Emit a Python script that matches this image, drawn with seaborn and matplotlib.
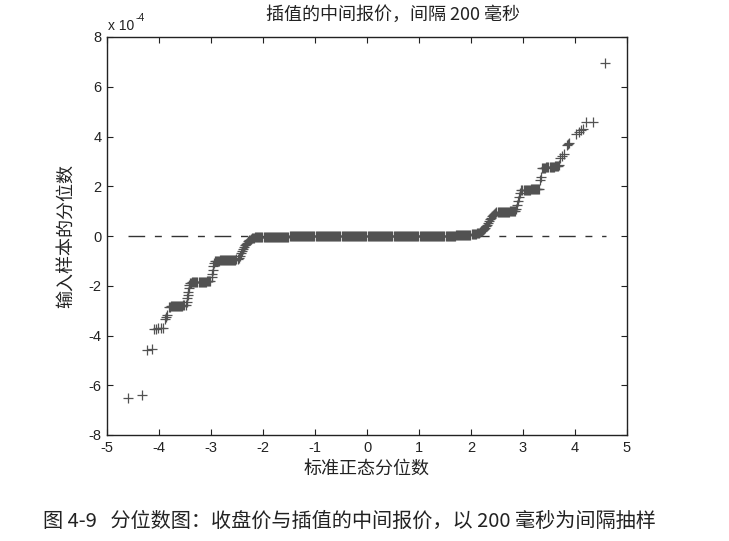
import numpy as np
import pandas as pd
import matplotlib
matplotlib.use("Agg")
import matplotlib.pyplot as plt
import seaborn as sns

# ---------------- data (x: standard normal quantiles, y: sample quantiles in units of 1e-4) ----------------
lower_tail_x = [-4.60, -4.33, -4.23, -4.14, -4.10, -4.05, -4.01, -3.97, -3.93, -3.88, -3.86, -3.84]
lower_tail_y = [-6.50, -6.40, -4.60, -4.56, -3.74, -3.72, -3.71, -3.70, -3.68, -3.32, -3.24, -3.16]

lower_steps_x = [-3.81, -3.79, -3.77, -3.75, -3.73, -3.71, -3.69, -3.67, -3.65, -3.63, -3.61, -3.59,
                 -3.57, -3.55, -3.53, -3.51, -3.49,
                 -3.47, -3.46, -3.45, -3.44, -3.43, -3.42,
                 -3.40, -3.38, -3.36, -3.34, -3.32, -3.30, -3.28, -3.26, -3.24, -3.22, -3.20, -3.18,
                 -3.16, -3.14, -3.12, -3.10, -3.08, -3.06, -3.04, -3.02,
                 -2.99, -2.98, -2.97, -2.96, -2.95,
                 -2.93, -2.91, -2.89, -2.87, -2.85, -2.83, -2.81, -2.79, -2.77, -2.75, -2.73, -2.71,
                 -2.69, -2.67, -2.65, -2.63, -2.61, -2.59, -2.57, -2.55, -2.53, -2.51, -2.49,
                 -2.47, -2.45, -2.43, -2.41, -2.39, -2.37, -2.35, -2.33, -2.31, -2.29, -2.27, -2.25,
                 -2.23, -2.21, -2.19, -2.17, -2.15, -2.13, -2.11]
lower_steps_y = [-2.84, -2.84, -2.83, -2.83, -2.83, -2.82, -2.82, -2.82, -2.81, -2.81, -2.81, -2.80,
                 -2.80, -2.80, -2.79, -2.78, -2.76,
                 -2.64, -2.50, -2.37, -2.24, -2.10, -1.96,
                 -1.87, -1.87, -1.86, -1.86, -1.86, -1.85, -1.85, -1.85, -1.85, -1.84, -1.84, -1.84,
                 -1.84, -1.83, -1.83, -1.83, -1.82, -1.82, -1.81, -1.79,
                 -1.66, -1.51, -1.36, -1.21, -1.08,
                 -1.00, -1.00, -0.99, -0.99, -0.99, -0.98, -0.98, -0.98, -0.98, -0.97, -0.97, -0.97,
                 -0.97, -0.97, -0.96, -0.96, -0.96, -0.96, -0.95, -0.95, -0.95, -0.94, -0.92,
                 -0.88, -0.79, -0.70, -0.61, -0.53, -0.45, -0.38, -0.32, -0.27, -0.22, -0.18, -0.15,
                 -0.12, -0.10, -0.08, -0.07, -0.06, -0.05, -0.05]

center_x = [-2.09, -2.07, -2.05, -2.03, -2.01, -1.99, -1.97, -1.95, -1.93, -1.91,
            -1.89, -1.87, -1.85, -1.83, -1.81, -1.79, -1.77, -1.75, -1.73, -1.71,
            -1.69, -1.67, -1.65, -1.63, -1.61, -1.59, -1.57, -1.55, -1.53, -1.51,
            -1.49, -1.47, -1.45, -1.43, -1.41, -1.39, -1.37, -1.35, -1.33, -1.31,
            -1.29, -1.27, -1.25, -1.23, -1.21, -1.19, -1.17, -1.15, -1.13, -1.11,
            -1.09, -1.07, -1.05, -1.03, -1.01, -0.99, -0.97, -0.95, -0.93, -0.91,
            -0.89, -0.87, -0.85, -0.83, -0.81, -0.79, -0.77, -0.75, -0.73, -0.71,
            -0.69, -0.67, -0.65, -0.63, -0.61, -0.59, -0.57, -0.55, -0.53, -0.51,
            -0.49, -0.47, -0.45, -0.43, -0.41, -0.39, -0.37, -0.35, -0.33, -0.31,
            -0.29, -0.27, -0.25, -0.23, -0.21, -0.19, -0.17, -0.15, -0.13, -0.11,
            -0.09, -0.07, -0.05, -0.03, -0.01, 0.01, 0.03, 0.05, 0.07, 0.09,
            0.11, 0.13, 0.15, 0.17, 0.19, 0.21, 0.23, 0.25, 0.27, 0.29,
            0.31, 0.33, 0.35, 0.37, 0.39, 0.41, 0.43, 0.45, 0.47, 0.49,
            0.51, 0.53, 0.55, 0.57, 0.59, 0.61, 0.63, 0.65, 0.67, 0.69,
            0.71, 0.73, 0.75, 0.77, 0.79, 0.81, 0.83, 0.85, 0.87, 0.89,
            0.91, 0.93, 0.95, 0.97, 0.99, 1.01, 1.03, 1.05, 1.07, 1.09,
            1.11, 1.13, 1.15, 1.17, 1.19, 1.21, 1.23, 1.25, 1.27, 1.29,
            1.31, 1.33, 1.35, 1.37, 1.39, 1.41, 1.43, 1.45, 1.47, 1.49,
            1.51, 1.53, 1.55, 1.57, 1.59, 1.61, 1.63, 1.65, 1.67, 1.69,
            1.71, 1.73, 1.75, 1.77, 1.79, 1.81, 1.83]
center_y = [-0.04, -0.04, -0.04, -0.04, -0.04, -0.04, -0.04, -0.04, -0.04, -0.04,
            -0.04, -0.04, -0.03, -0.03, -0.03, -0.03, -0.03, -0.03, -0.03, -0.03,
            -0.03, -0.03, -0.03, -0.03, -0.03, -0.03, -0.03, -0.03, -0.03, -0.03,
            -0.02, -0.02, -0.02, -0.02, -0.02, -0.02, -0.02, -0.02, -0.02, -0.02,
            -0.02, -0.02, -0.02, -0.02, -0.02, -0.02, -0.02, -0.02, -0.02, -0.02,
            -0.02, -0.02, -0.02, -0.02, -0.02, -0.01, -0.01, -0.01, -0.01, -0.01,
            -0.01, -0.01, -0.01, -0.01, -0.01, -0.01, -0.01, -0.01, -0.01, -0.01,
            -0.01, -0.01, -0.01, -0.01, -0.01, -0.01, -0.01, -0.01, -0.01, -0.01,
            0.00, 0.00, 0.00, 0.00, 0.00, 0.00, 0.00, 0.00, 0.00, 0.00,
            0.00, 0.00, 0.00, 0.00, 0.00, 0.00, 0.00, 0.00, 0.00, 0.00,
            0.00, 0.00, 0.00, 0.00, 0.00, 0.00, 0.00, 0.00, 0.00, 0.00,
            0.00, 0.00, 0.00, 0.00, 0.00, 0.00, 0.00, 0.00, 0.00, 0.00,
            0.00, 0.00, 0.00, 0.00, 0.00, 0.00, 0.00, 0.00, 0.00, 0.00,
            0.01, 0.01, 0.01, 0.01, 0.01, 0.01, 0.01, 0.01, 0.01, 0.01,
            0.01, 0.01, 0.01, 0.01, 0.01, 0.01, 0.01, 0.01, 0.01, 0.01,
            0.01, 0.01, 0.01, 0.01, 0.01, 0.01, 0.01, 0.01, 0.01, 0.01,
            0.01, 0.01, 0.01, 0.01, 0.01, 0.02, 0.02, 0.02, 0.02, 0.02,
            0.02, 0.02, 0.02, 0.02, 0.02, 0.02, 0.02, 0.02, 0.02, 0.02,
            0.02, 0.02, 0.02, 0.02, 0.02, 0.02, 0.02, 0.02, 0.02, 0.02,
            0.03, 0.03, 0.03, 0.03, 0.03, 0.03, 0.03]

upper_steps_x = [1.85, 1.87, 1.89, 1.91, 1.93, 1.95, 1.97, 1.99, 2.01, 2.03,
                 2.05, 2.07, 2.09, 2.11, 2.13, 2.15, 2.17, 2.19, 2.21, 2.23,
                 2.25, 2.27, 2.29, 2.31, 2.33, 2.35, 2.37, 2.39, 2.41, 2.43,
                 2.45, 2.47,
                 2.49, 2.51, 2.53, 2.55, 2.57, 2.59, 2.61, 2.63, 2.65, 2.67,
                 2.69, 2.71, 2.73, 2.75, 2.77, 2.79, 2.81, 2.83, 2.85,
                 2.87, 2.89, 2.91, 2.93, 2.95,
                 2.97, 2.99, 3.01, 3.03, 3.05, 3.07, 3.09, 3.11, 3.13, 3.15,
                 3.17, 3.19, 3.21, 3.23, 3.25, 3.27, 3.29, 3.31,
                 3.33, 3.35,
                 3.37, 3.39, 3.41, 3.43, 3.45, 3.47, 3.49, 3.51, 3.53, 3.55,
                 3.57, 3.59, 3.61, 3.63, 3.65, 3.67, 3.69]
upper_steps_y = [0.03, 0.04, 0.04, 0.04, 0.05, 0.05, 0.06, 0.06, 0.07, 0.07,
                 0.08, 0.09, 0.10, 0.11, 0.13, 0.14, 0.16, 0.19, 0.22, 0.25,
                 0.29, 0.34, 0.40, 0.46, 0.53, 0.60, 0.67, 0.74, 0.80, 0.86,
                 0.90, 0.93,
                 0.95, 0.95, 0.96, 0.96, 0.96, 0.97, 0.97, 0.97, 0.97, 0.98,
                 0.98, 0.98, 0.98, 0.99, 0.99, 0.99, 1.00, 1.00, 1.01,
                 1.10, 1.26, 1.42, 1.57, 1.72,
                 1.84, 1.84, 1.85, 1.85, 1.85, 1.86, 1.86, 1.86, 1.86, 1.87,
                 1.87, 1.87, 1.88, 1.88, 1.88, 1.89, 1.89, 1.90,
                 2.24, 2.36,
                 2.74, 2.74, 2.75, 2.75, 2.76, 2.76, 2.77, 2.77, 2.78, 2.78,
                 2.79, 2.79, 2.80, 2.80, 2.81, 2.82, 2.84]

upper_tail_x = [3.72, 3.75, 3.78, 3.85, 3.87, 3.89, 4.02, 4.07, 4.12, 4.16, 4.22, 4.34, 4.58]
upper_tail_y = [3.12, 3.20, 3.28, 3.64, 3.70, 3.74, 4.12, 4.18, 4.25, 4.30, 4.60, 4.60, 6.95]

ref_x = [-4.60, 4.60]
ref_y = [0.0, 0.0]

x_ticks = [-5, -4, -3, -2, -1, 0, 1, 2, 3, 4, 5]
y_ticks = [-8, -6, -4, -2, 0, 2, 4, 6, 8]

title_text = "插值的中间报价，间隔 200 毫秒"
xlabel_text = "标准正态分位数"
ylabel_text = "输入样本的分位数"
caption_text = "图 4-9   分位数图：收盘价与插值的中间报价，以 200 毫秒为间隔抽样"

# ---------------- build frame ----------------
df = pd.DataFrame({
    "x": lower_tail_x + lower_steps_x + center_x + upper_steps_x + upper_tail_x,
    "y": lower_tail_y + lower_steps_y + center_y + upper_steps_y + upper_tail_y,
})

sns.set_theme(style="white")
plt.rcParams['font.family'] = ['Liberation Sans', 'Noto Sans CJK SC', 'DejaVu Sans']
cjk = ['Noto Sans CJK SC', 'DejaVu Sans']

W, H = 729, 541
fig = plt.figure(figsize=(W / 100, H / 100), dpi=100)
fig.patch.set_facecolor("white")
ax = fig.add_axes([107 / W, 1 - 435 / H, 520 / W, 398 / H])
ax.set_facecolor("white")

ink = "#525252"
sns.scatterplot(data=df, x="x", y="y", marker="+", s=60, color=ink,
                linewidth=0.9, ax=ax, legend=False, zorder=3)
ax.plot(ref_x, ref_y, color="#333333", lw=1.0, linestyle=(0, (12, 7, 5, 7)), zorder=2)

ax.set_xlim(-5, 5)
ax.set_ylim(-8, 8)
ax.set_xticks(x_ticks)
ax.set_yticks(y_ticks)
ax.set_xticklabels([str(t) for t in x_ticks])
ax.set_yticklabels([str(t) for t in y_ticks])
ax.tick_params(direction="in", length=4, width=0.8, color="#222222",
               top=True, right=True, bottom=True, left=True,
               labelsize=10.5, labelcolor="#222222", pad=4)
for sp in ax.spines.values():
    sp.set_visible(True)
    sp.set_color("#222222")
    sp.set_linewidth(1.0)

ax.set_xlabel(xlabel_text, fontsize=13, family=cjk, color="#222222", labelpad=4)
ax.set_ylabel(ylabel_text, fontsize=13, family=cjk, color="#222222", labelpad=10)

fig.text(266 / W, 1 - 15 / H, title_text, fontsize=13, family=cjk,
         color="#222222", ha="left", va="center")
fig.text(108 / W, 1 - 26 / H, "x 10", fontsize=10, color="#222222", ha="left", va="center")
fig.text(136 / W, 1 - 18 / H, "-4", fontsize=7.5, color="#222222", ha="left", va="center")
fig.text(43 / W, 1 - 521 / H, caption_text, fontsize=14.5, family=cjk,
         color="#222222", ha="left", va="center")

fig.savefig("out.png", dpi=100, facecolor="white")
